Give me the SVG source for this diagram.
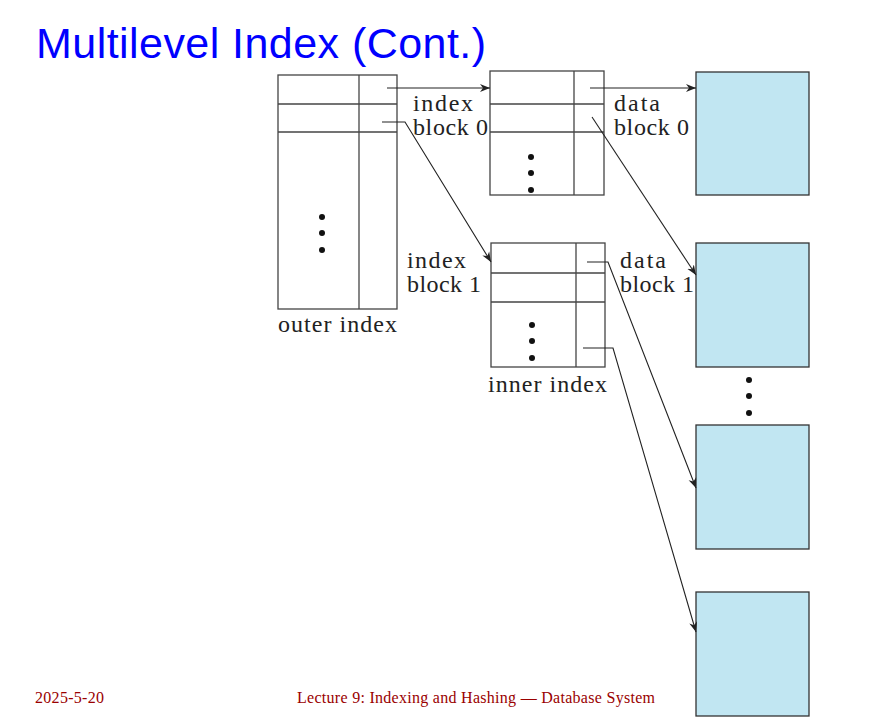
<svg xmlns="http://www.w3.org/2000/svg" width="886" height="720" viewBox="0 0 886 720">
<defs>
<style>
.box{fill:#fff;stroke:#444;stroke-width:1.3}
.ln{stroke:#444;stroke-width:1.3;fill:none}
.data{fill:#c1e6f2;stroke:#333;stroke-width:1.3}
.con{stroke:#222;stroke-width:1.1;fill:none;marker-end:url(#ah)}
.lbl{font-family:"Liberation Serif","DejaVu Serif",serif;font-size:24px;fill:#222}
.foot{font-family:"Liberation Serif",serif;font-size:16px;fill:#9a0000}
</style>
<marker id="ah" viewBox="0 0 10 10" refX="10" refY="5" markerWidth="10" markerHeight="10" markerUnits="userSpaceOnUse" orient="auto">
<path d="M0,1 L10,5 L0,9 L3,5 Z" fill="#222"/>
</marker>
</defs>
<rect width="886" height="720" fill="#fff"/>
<text x="36" y="58" font-family="'Liberation Sans',Arial,sans-serif" font-size="43" fill="#0000ff" textLength="450">Multilevel Index (Cont.)</text>

<g id="outer-index">
<rect class="box" x="278" y="75" width="119" height="234"/>
<line class="ln" x1="359" y1="75" x2="359" y2="309"/>
<line class="ln" x1="278" y1="104" x2="397" y2="104"/>
<line class="ln" x1="278" y1="132" x2="397" y2="132"/>
<circle cx="322" cy="217" r="3" fill="#111"/>
<circle cx="322" cy="233" r="3" fill="#111"/>
<circle cx="322" cy="250" r="3" fill="#111"/>
<text class="lbl" x="278" y="332" textLength="119">outer index</text>
</g>

<g id="index-block-0">
<rect class="box" x="490" y="71" width="114" height="124"/>
<line class="ln" x1="574" y1="71" x2="574" y2="195"/>
<line class="ln" x1="490" y1="104" x2="604" y2="104"/>
<line class="ln" x1="490" y1="132" x2="604" y2="132"/>
<circle cx="531" cy="157" r="3" fill="#111"/>
<circle cx="531" cy="173" r="3" fill="#111"/>
<circle cx="531" cy="190" r="3" fill="#111"/>
<text class="lbl" x="413" y="111" textLength="60">index</text>
<text class="lbl" x="413" y="135" textLength="75">block 0</text>
</g>

<g id="index-block-1">
<rect class="box" x="491" y="243" width="114" height="124"/>
<line class="ln" x1="576" y1="243" x2="576" y2="367"/>
<line class="ln" x1="491" y1="273" x2="605" y2="273"/>
<line class="ln" x1="491" y1="302" x2="605" y2="302"/>
<circle cx="532" cy="325" r="3" fill="#111"/>
<circle cx="532" cy="341" r="3" fill="#111"/>
<circle cx="532" cy="358" r="3" fill="#111"/>
<text class="lbl" x="407" y="268" textLength="59">index</text>
<text class="lbl" x="407" y="292" textLength="74">block 1</text>
<text class="lbl" x="488" y="392" textLength="119">inner index</text>
</g>

<g id="data-block-0">
<rect class="data" x="696" y="72" width="113" height="123"/>
<text class="lbl" x="614" y="111" textLength="46">data</text>
<text class="lbl" x="614" y="135" textLength="75">block 0</text>
</g>
<g id="data-block-1">
<rect class="data" x="696" y="243" width="113" height="124"/>
<text class="lbl" x="620" y="268" textLength="46">data</text>
<text class="lbl" x="620" y="292" textLength="74">block 1</text>
</g>
<g id="data-dots">
<circle cx="749" cy="380" r="3" fill="#111"/>
<circle cx="749" cy="396" r="3" fill="#111"/>
<circle cx="749" cy="413" r="3" fill="#111"/>
</g>
<g id="data-block-2">
<rect class="data" x="696" y="425" width="113" height="124"/>
</g>
<g id="data-block-3">
<rect class="data" x="696" y="592" width="113" height="124"/>
</g>

<g id="connectors">
<path class="con" d="M387,88 L490,88"/>
<path class="con" d="M382,122 L405,122 L491,262"/>
<path class="con" d="M590,88 L696,88"/>
<path class="con" d="M592,117 L696,275"/>
<path class="con" d="M587,262 L608,262 L696,488"/>
<path class="con" d="M583,348 L613,348 L696,632"/>
</g>

<text class="foot" x="35" y="703" textLength="69">2025-5-20</text>
<text class="foot" x="297" y="703" textLength="358">Lecture 9: Indexing and Hashing — Database System</text>
</svg>
